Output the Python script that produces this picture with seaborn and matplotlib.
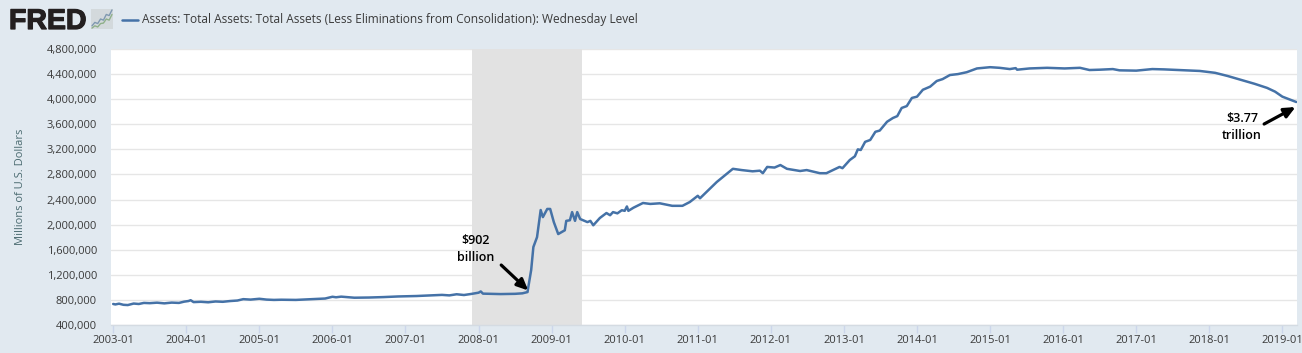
import matplotlib
matplotlib.use("Agg")
import matplotlib.pyplot as plt
import matplotlib.patheffects as pe
import seaborn as sns
import pandas as pd

years = [2003.00,2003.03,2003.08,2003.14,2003.20,2003.28,2003.35,2003.42,2003.50,2003.60,2003.70,2003.80,2003.90,2003.97,2004.03,2004.06,2004.10,2004.20,2004.30,2004.40,2004.50,2004.60,2004.70,2004.78,2004.88,2005.00,2005.10,2005.20,2005.30,2005.50,2005.65,2005.80,2005.90,2006.00,2006.05,2006.12,2006.30,2006.50,2006.70,2006.90,2007.00,2007.15,2007.30,2007.50,2007.60,2007.70,2007.80,2007.90,2008.00,2008.03,2008.06,2008.15,2008.30,2008.50,2008.60,2008.67,
2008.68,2008.72,2008.75,2008.80,2008.85,2008.88,2008.94,2008.98,2009.03,2009.09,2009.18,2009.20,2009.25,2009.28,2009.32,2009.35,2009.39,2009.49,2009.53,2009.57,2009.66,2009.75,2009.80,2009.84,2009.90,2009.96,2010.00,2010.03,2010.05,2010.12,2010.25,2010.35,2010.48,2010.65,2010.79,2010.89,2011.00,2011.03,2011.26,2011.48,2011.60,2011.75,2011.85,2011.89,2011.95,2012.05,2012.13,2012.22,2012.40,2012.49,2012.67,2012.76,2012.85,2012.94,2012.98,2013.08,2013.15,2013.19,2013.23,2013.29,2013.36,2013.43,2013.49,2013.59,2013.67,2013.73,2013.79,2013.86,2013.93,2014.00,2014.08,2014.18,2014.27,2014.35,2014.45,2014.56,2014.68,2014.75,2014.82,2015.00,2015.13,2015.27,2015.35,2015.37,2015.54,2015.78,2016.02,2016.23,2016.36,2016.50,2016.68,2016.77,2017.00,2017.22,2017.38,2017.59,2017.87,2018.08,2018.25,2018.46,2018.62,2018.79,2018.90,2019.00,2019.10,2019.19]
assets = [735,728,740,722,718,742,735,752,748,756,745,757,752,772,782,795,765,770,762,775,770,782,790,812,805,818,805,800,803,800,808,815,822,850,842,852,835,838,845,855,858,862,870,880,872,890,878,895,915,935,900,898,893,897,905,925,
1000,1277,1643,1800,2233,2120,2250,2250,2040,1850,1910,2060,2070,2200,2060,2200,2090,2040,2060,1990,2106,2185,2150,2200,2180,2230,2220,2290,2220,2270,2345,2330,2340,2300,2300,2360,2460,2420,2680,2890,2870,2850,2860,2820,2920,2910,2950,2890,2855,2870,2820,2820,2870,2920,2900,3030,3090,3200,3190,3320,3350,3480,3500,3640,3700,3730,3860,3890,4020,4040,4150,4200,4290,4320,4385,4400,4430,4460,4490,4510,4500,4480,4495,4470,4490,4500,4490,4500,4465,4470,4480,4460,4455,4480,4475,4465,4450,4420,4370,4300,4245,4180,4120,4040,3995,3955]
year_ticks = list(range(2003, 2020))
year_labels = [f"{y}-01" for y in year_ticks]
value_ticks = list(range(400000, 4800001, 400000))
recession = [2007.91, 2009.41]
icon_green = [1, 2, 1.5, 3, 3.2, 5, 4.5, 7]
icon_blue = [2, 3.5, 3, 5, 4.5, 7, 6.5, 9]

BG = "#e1e9f0"
BLUE = "#4572a7"
TXT = "#3a3a3a"
sns.set_theme(style="white")
plt.rcParams["font.family"] = ["Open Sans", "DejaVu Sans"]

fig = plt.figure(figsize=(13.02, 3.53), dpi=100, facecolor=BG)
W, H = 1302, 353
ax = fig.add_axes([111/W, 1-325/H, (1297-111)/W, (325-49)/H])
ax.set_facecolor("white")

df = pd.DataFrame({"year": years, "value": [a*1000 for a in assets]})
ax.axvspan(recession[0], recession[1], color="#e2e2e2", lw=0, zorder=1.5)
sns.lineplot(data=df, x="year", y="value", ax=ax, color=BLUE, lw=1.8, zorder=3, errorbar=None, estimator=None)

ax.set_xlim(2002.97, 2019.2)
ax.set_ylim(400000, 4800000)
ax.set_xticks(year_ticks, year_labels)
ax.set_yticks(value_ticks, [f"{v:,}" for v in value_ticks])
ax.grid(axis="y", color="#e6e6e6", lw=1, zorder=1)
ax.set_axisbelow(True)
for s in ["top", "right", "left"]:
    ax.spines[s].set_visible(False)
ax.spines["bottom"].set_color("#d4dbe2")
ax.spines["bottom"].set_linewidth(1)
ax.tick_params(axis="x", length=6, width=1, color="#ccd6eb", labelsize=8, labelcolor=TXT, pad=1.5, bottom=True)
ax.tick_params(axis="y", length=0, labelsize=8, labelcolor=TXT, pad=10)
ax.set_xlabel("")
ax.set_ylabel("Millions of U.S. Dollars", fontsize=8, color="#4a6a70", labelpad=0)
ax.yaxis.set_label_coords((26-111)/(1297-111), 0.5)

# annotations
arrow = dict(arrowstyle="-|>,head_width=0.25,head_length=0.55", color="black", lw=2.3, shrinkA=0, shrinkB=0)
ax.annotate("", xy=(2008.68, 950000), xytext=(2008.31, 1356000), arrowprops=arrow, zorder=5)
ax.annotate("", xy=(2019.18, 3875000), xytext=(2018.75, 3604000), arrowprops=arrow, zorder=5)
fig.text(476/W, 1-249/H, "$902\nbillion", ha="center", va="center", fontsize=9, fontweight="semibold", color="black", linespacing=1.4)
fig.text(1242/W, 1-127/H, "$3.77\ntrillion", ha="center", va="center", fontsize=9, fontweight="semibold", color="black", linespacing=1.4)

# header
fig.text(9/W, 1-29/H, "FRED", ha="left", va="baseline", fontsize=20.5, fontweight="bold", color="#231f20",
         family=["Liberation Sans"], path_effects=[pe.withStroke(linewidth=0.9, foreground="#231f20")])
icon = fig.add_axes([91/W, 1-29/H, 22/W, 20/H], facecolor="#d3d9dc")
icon.plot(icon_green, color="#8fb08a", lw=1)
icon.plot(icon_blue, color="#7f99b0", lw=1)
icon.set_xticks([])
icon.set_yticks([])
for s in icon.spines.values():
    s.set_visible(False)
fig.add_artist(plt.Line2D([122/W, 138/W], [1-19.5/H]*2, color=BLUE, lw=1.8))
fig.text(142/W, 1-20/H, "Assets: Total Assets: Total Assets (Less Eliminations from Consolidation): Wednesday Level", ha="left", va="center", fontsize=8.6, color=TXT)

fig.savefig("out.png", dpi=100, facecolor=BG)
